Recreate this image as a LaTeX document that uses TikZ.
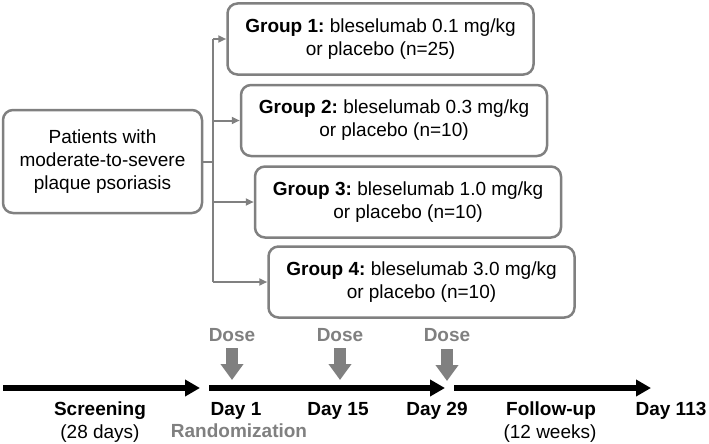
\documentclass[tikz,border=0pt]{standalone}
\usepackage{fontspec}
\setmainfont{Liberation Sans}
\usetikzlibrary{arrows.meta}
\definecolor{lgray}{RGB}{128,128,128}
\frenchspacing
\tikzset{
  gbox/.style={draw=lgray, line width=2.5pt, rounded corners=10pt, fill=white,
    minimum width=306pt, minimum height=71pt, align=center, inner sep=0pt,
    font=\fontsize{19}{23}\selectfont\frenchspacing},
  pbox/.style={draw=lgray, line width=2.5pt, rounded corners=10pt, fill=white,
    minimum width=199pt, minimum height=103pt, align=center, inner sep=0pt,
    font=\fontsize{19}{22.7}\selectfont\frenchspacing},
  branch/.style={draw=lgray, line width=2pt},
  brarrow/.style={branch, -{Triangle[length=8pt,width=7pt]}},
  tline/.style={line width=6pt, -{Triangle[length=15pt,width=16pt]}},
  dosearrow/.style={draw=lgray, line width=12pt, -{Triangle[length=16pt,width=22pt]}},
  tbold/.style={anchor=base, font=\fontsize{19}{23}\selectfont\bfseries, inner sep=0pt},
  treg/.style={anchor=base, font=\fontsize{19}{23}\selectfont, inner sep=0pt},
  tgray/.style={anchor=base, font=\fontsize{19}{23}\selectfont\bfseries, text=lgray, inner sep=0pt},
}
\begin{document}
\begin{tikzpicture}[x=1pt,y=-1pt]
\useasboundingbox (0,0) rectangle (709,444);
% boxes
\node[pbox] (pat) at (102.5,161.5) {Patients with\\moderate-to-severe\\plaque psoriasis};
\node[gbox] (g1) at (380.5,39) {\textbf{Group 1:} bleselumab 0.1 mg/kg\\or placebo (n=25)};
\node[gbox] (g2) at (394,120.5) {\textbf{Group 2:} bleselumab 0.3 mg/kg\\or placebo (n=10)};
\node[gbox] (g3) at (408,202) {\textbf{Group 3:} bleselumab 1.0 mg/kg\\or placebo (n=10)};
\node[gbox] (g4) at (421.5,282) {\textbf{Group 4:} bleselumab 3.0 mg/kg\\or placebo (n=10)};
% branching connectors
\coordinate (bt) at (213,39);
\coordinate (bb) at (213,282);
\coordinate (bm) at (213,161.5);
\coordinate (b2) at (213,120.5);
\coordinate (b3) at (213,202);
\draw[branch] (pat.east) -- (bm);
\draw[branch] (bt) -- (bb);
\draw[brarrow] (bt) -- (g1.west);
\draw[brarrow] (b2) -- (g2.west);
\draw[brarrow] (b3) -- (g3.west);
\draw[brarrow] (bb) -- (g4.west);
% timeline
\coordinate (t1s) at (3,388);  \coordinate (t1e) at (200,388);
\coordinate (t2s) at (209,388); \coordinate (t2e) at (445,388);
\coordinate (t3s) at (454,388); \coordinate (t3e) at (651,388);
\draw[tline] (t1s) -- (t1e);
\draw[tline] (t2s) -- (t2e);
\draw[tline] (t3s) -- (t3e);
% doses
\node[tgray] (dose1) at (232,341) {Dose};
\node[tgray] (dose2) at (340,341) {Dose};
\node[tgray] (dose3) at (447,341) {Dose};
\coordinate (d1a) at (232,348); \coordinate (d1b) at (232,380);
\coordinate (d2a) at (340,348); \coordinate (d2b) at (340,380);
\coordinate (d3a) at (447,349); \coordinate (d3b) at (447,381);
\draw[dosearrow] (d1a) -- (d1b);
\draw[dosearrow] (d2a) -- (d2b);
\draw[dosearrow] (d3a) -- (d3b);
% labels
\node[tbold] (scr) at (100,415) {Screening};
\node[treg] (scrd) at (100,438) {(28 days)};
\node[tbold] (day1) at (236,415) {Day 1};
\node[tgray] (rand) at (239,437) {Randomization};
\node[tbold] (day15) at (338,415) {Day 15};
\node[tbold] (day29) at (437,415) {Day 29};
\node[tbold] (fu) at (551,415) {Follow-up};
\node[treg] (fuw) at (550,438) {(12 weeks)};
\node[tbold] (day113) at (671,415) {Day 113};
\end{tikzpicture}
\end{document}
